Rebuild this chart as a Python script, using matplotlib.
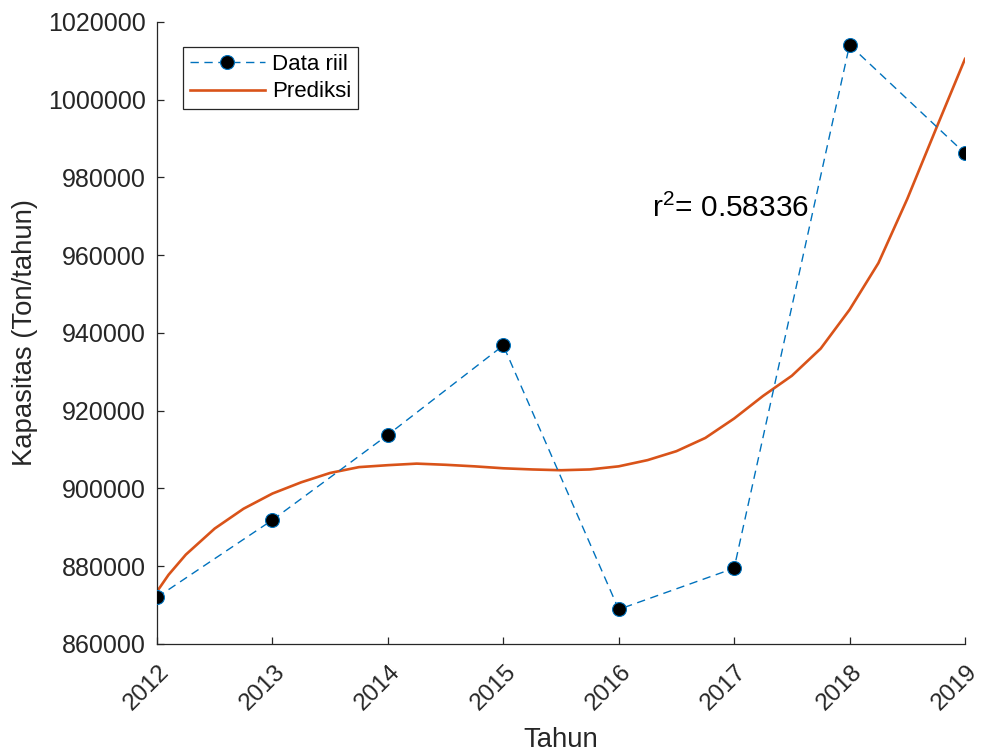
import matplotlib
matplotlib.use("Agg")
import matplotlib.pyplot as plt
from matplotlib.transforms import ScaledTranslation

plt.rcParams['font.family'] = ['Liberation Sans', 'DejaVu Sans']
plt.rcParams['mathtext.fontset'] = 'custom'
plt.rcParams['mathtext.rm'] = 'Liberation Sans'
plt.rcParams['mathtext.default'] = 'regular'

# Data
years = [2012, 2013, 2014, 2015, 2016, 2017, 2018, 2019]
data_riil = [872000, 891900, 913800, 936800, 868900, 879500, 1014100, 986200]

pred_years = [2012.0, 2012.1, 2012.25, 2012.5, 2012.75, 2013.0, 2013.25, 2013.5,
              2013.75, 2014.0, 2014.25, 2014.5, 2014.75, 2015.0, 2015.25, 2015.5,
              2015.75, 2016.0, 2016.25, 2016.5, 2016.75, 2017.0, 2017.25, 2017.5,
              2017.75, 2018.0, 2018.25, 2018.5, 2018.75, 2019.0]
prediksi = [873500, 877800, 883000, 889700, 894800, 898700, 901600, 904000,
            905500, 906000, 906400, 906100, 905700, 905200, 904900, 904700,
            904900, 905700, 907300, 909600, 913000, 918000, 923800, 929000,
            936000, 946000, 958000, 974500, 992600, 1010500]

xtick_vals = [2012, 2013, 2014, 2015, 2016, 2017, 2018, 2019]
ytick_vals = [860000, 880000, 900000, 920000, 940000, 960000, 980000, 1000000, 1020000]

r2_text = 'r$^{2}$= 0.58336'

fig = plt.figure(figsize=(9.82, 7.53), dpi=100)
ax = fig.add_axes([157/982, 1-644/753, 808/982, 622/753])

blue = '#0072BD'
orange = '#D95319'
dark = '#262626'

ax.plot(years, data_riil, linestyle=(0, (6, 4)), color=blue, linewidth=1.0,
        marker='o', markersize=10, markerfacecolor='black', markeredgecolor=blue,
        markeredgewidth=0.8, label='Data riil', zorder=3)
ax.plot(pred_years, prediksi, color=orange, linewidth=1.9, label='Prediksi', zorder=2,
        solid_joinstyle='round')

ax.set_xlim(2012, 2019)
ax.set_ylim(860000, 1020000)
ax.set_xticks(xtick_vals)
ax.set_xticklabels([str(v) for v in xtick_vals])
ax.set_yticks(ytick_vals)
ax.set_yticklabels([str(v) for v in ytick_vals])

for s in ['top', 'right']:
    ax.spines[s].set_visible(False)
for s in ['left', 'bottom']:
    ax.spines[s].set_color(dark)
    ax.spines[s].set_linewidth(0.9)

ax.tick_params(axis='both', direction='in', length=5, width=0.9, color=dark,
               labelcolor=dark, labelsize=18)
ax.tick_params(axis='y', pad=8)
ax.tick_params(axis='x', pad=12, labelsize=17.5)

for lab in ax.get_xticklabels():
    lab.set_rotation(45)
    lab.set_ha('center')
    lab.set_va('top')
    lab.set_transform(lab.get_transform() + ScaledTranslation(-10/100, 0, fig.dpi_scale_trans))

ax.set_xlabel('Tahun', fontsize=19.8, color=dark)
ax.set_ylabel('Kapasitas (Ton/tahun)', fontsize=19.8, color=dark)
ax.xaxis.set_label_coords(0.5, (644-727)/622)
ax.yaxis.set_label_coords((38-157)/808, 0.5)

ax.text(2016.29, 969800, r2_text, fontsize=21.5, color='black', va='baseline', ha='left')

leg = ax.legend(loc='upper left', bbox_to_anchor=((183-157)/808, (644-47)/622),
                borderaxespad=0, fontsize=16, frameon=True, fancybox=False,
                handlelength=3.4, handletextpad=0.3, borderpad=0.3,
                labelspacing=0.3)
leg.get_frame().set_edgecolor(dark)
leg.get_frame().set_linewidth(0.9)
leg.get_frame().set_alpha(1)
for t in leg.get_texts():
    t.set_color('black')

fig.savefig('out.png', dpi=100)
